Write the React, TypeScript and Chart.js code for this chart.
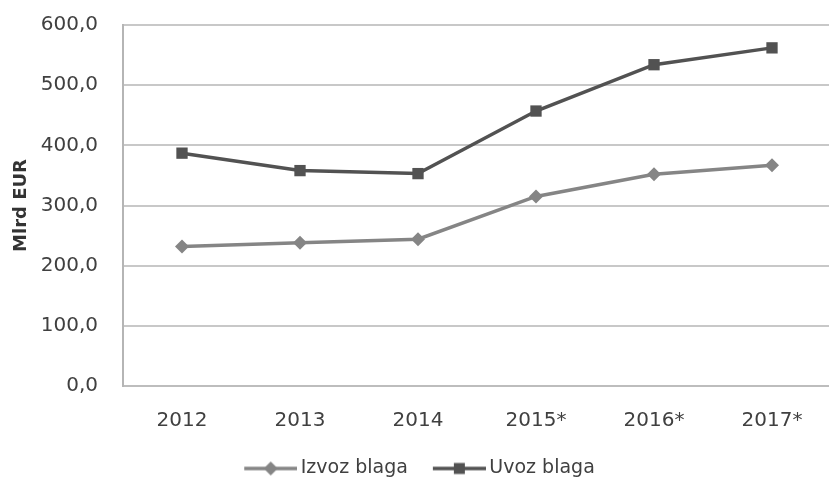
import { useEffect, useRef } from "react";
import { Chart, registerables } from "chart.js";

Chart.register(...registerables);

const categories = ["2012", "2013", "2014", "2015*", "2016*", "2017*"];
const izvozBlaga = [232, 238, 244, 315, 352, 367];
const uvozBlaga = [387, 358, 353, 457, 534, 562];
const yTickValues = [0, 100, 200, 300, 400, 500, 600];
const seriesNames = ["Izvoz blaga", "Uvoz blaga"];
const yTitle = "Mlrd EUR";

const IZVOZ_COLOR = "#858585";
const UVOZ_COLOR = "#525252";
const FONT = "'DejaVu Sans', sans-serif";

function legendImage(color: string, shape: "diamond" | "square"): HTMLCanvasElement {
  const c = document.createElement("canvas");
  c.width = 81;
  c.height = 18;
  const ctx = c.getContext("2d")!;
  ctx.strokeStyle = color;
  ctx.lineWidth = 3.5;
  ctx.beginPath();
  ctx.moveTo(28, 9);
  ctx.lineTo(81, 9);
  ctx.stroke();
  ctx.fillStyle = color;
  const cx = 54.5;
  if (shape === "diamond") {
    ctx.beginPath();
    ctx.moveTo(cx, 2);
    ctx.lineTo(cx + 7, 9);
    ctx.lineTo(cx, 16);
    ctx.lineTo(cx - 7, 9);
    ctx.closePath();
    ctx.fill();
  } else {
    ctx.fillRect(cx - 5.5, 3.5, 11, 11);
  }
  return c;
}

export default function App() {
  const ref = useRef<HTMLCanvasElement | null>(null);

  useEffect(() => {
    if (!ref.current) return;
    const imgs = [legendImage(IZVOZ_COLOR, "diamond"), legendImage(UVOZ_COLOR, "square")];
    const chart = new Chart(ref.current, {
      type: "line",
      data: {
        labels: categories,
        datasets: [
          {
            label: seriesNames[0],
            data: izvozBlaga,
            borderColor: IZVOZ_COLOR,
            backgroundColor: IZVOZ_COLOR,
            borderWidth: 3.5,
            pointStyle: "rectRot",
            pointRadius: 7,
            pointBorderWidth: 0,
            tension: 0,
          },
          {
            label: seriesNames[1],
            data: uvozBlaga,
            borderColor: UVOZ_COLOR,
            backgroundColor: UVOZ_COLOR,
            borderWidth: 3.5,
            pointStyle: "rect",
            pointRadius: 8,
            pointBorderWidth: 0,
            tension: 0,
          },
        ],
      },
      options: {
        animation: false,
        responsive: true,
        maintainAspectRatio: false,
        layout: { padding: { top: 25, left: -22, right: 0, bottom: -6 } },
        plugins: {
          tooltip: { enabled: false },
          legend: {
            position: "bottom",
            labels: {
              usePointStyle: true,
              pointStyleWidth: 69,
              boxHeight: 18,
              padding: 3,
              color: "#404040",
              font: { family: FONT, size: 19 },
              generateLabels: (ch: any) => {
                const items = Chart.defaults.plugins.legend.labels.generateLabels(ch);
                items.forEach((it: any, i: number) => {
                  it.pointStyle = imgs[i];
                });
                return items;
              },
            },
          },
        },
        scales: {
          x: {
            offset: true,
            grid: { display: false, drawTicks: false },
            border: { display: true, color: "#bdbdbd", width: 2 },
            ticks: {
              color: "#404040",
              font: { family: FONT, size: 20 },
              padding: 23,
              maxRotation: 0,
            },
            afterFit: (scale: any) => {
              scale.height = 70;
              scale.paddingTop = 0;
              scale.paddingBottom = 0;
            },
          },
          y: {
            min: 0,
            max: 600,
            afterBuildTicks: (scale: any) => {
              scale.ticks = yTickValues.map((v) => ({ value: v }));
            },
            grid: { color: "#c8c8c8", lineWidth: 2, drawTicks: false },
            border: { display: true, color: "#b5b5b5", width: 2 },
            ticks: {
              color: "#404040",
              font: { family: FONT, size: 20 },
              padding: 25,
              callback: (v: any) => Number(v).toFixed(1).replace(".", ","),
            },
            title: {
              display: true,
              text: yTitle,
              color: "#333333",
              font: { family: FONT, size: 18, weight: "bold" },
              padding: { top: 33, bottom: 0 },
            },
            afterFit: (scale: any) => {
              scale.width = 145;
              scale.paddingTop = 0;
              scale.paddingBottom = 0;
            },
          },
        },
      },
    });
    return () => chart.destroy();
  }, []);

  return (
    <div style={{ position: "fixed", left: 0, top: 0, width: 829, height: 482, overflow: "hidden", background: "#fff" }}>
      <div style={{ position: "absolute", left: 0, top: 0, width: 839, height: 482 }}>
        <canvas ref={ref} />
      </div>
    </div>
  );
}
